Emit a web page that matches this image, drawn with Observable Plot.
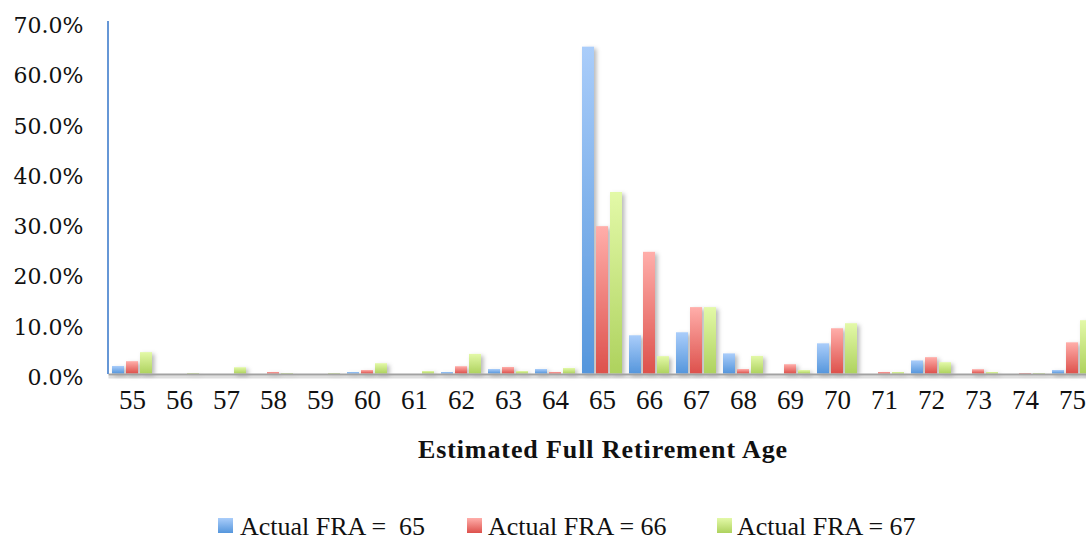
<!DOCTYPE html>
<html>
<head>
<meta charset="utf-8">
<script src="https://cdn.jsdelivr.net/npm/d3@7"></script>
<script src="https://cdn.jsdelivr.net/npm/@observablehq/plot@0.6"></script>
<style>
  html, body { margin: 0; padding: 0; background: #fff; overflow: hidden; }
  #chart { position: relative; width: 1086px; height: 540px; }
  #chart svg { display: block; }
  #legend { position: absolute; left: 0; top: 512px; width: 1086px; height: 30px;
            font-family: "Liberation Serif", serif; font-size: 26px; line-height: 30px; color: #111; }
  .sw { position: absolute; top: 6px; width: 15px; height: 15px; }
  .lt { position: absolute; top: 0; white-space: pre; }
</style>
</head>
<body>
<div id="chart"></div>
<script>
// Estimated full retirement age, share of respondents by actual FRA (percent)
const ages = [55, 56, 57, 58, 59, 60, 61, 62, 63, 64, 65, 66, 67, 68, 69, 70, 71, 72, 73, 74, 75];
const fra65 = [1.5, 0, 0, 0, 0, 0.3, 0, 0.3, 0.9, 0.9, 65.0, 7.6, 8.2, 4.0, 0, 6.0, 0, 2.6, 0, 0, 0.7];
const fra66 = [2.45, 0, 0, 0.3, 0, 0.7, 0, 1.45, 1.3, 0.3, 29.3, 24.2, 13.2, 0.9, 1.85, 9.0, 0.3, 3.25, 0.86, 0.1, 6.2];
const fra67 = [4.25, 0.1, 1.25, 0.1, 0.1, 2.05, 0.5, 3.9, 0.5, 1.1, 36.1, 3.45, 13.2, 3.5, 0.7, 10.0, 0.3, 2.25, 0.3, 0.1, 10.6];
const seriesNames = ["Actual FRA =  65", "Actual FRA = 66", "Actual FRA = 67"];
const yTicks = [0, 0.1, 0.2, 0.3, 0.4, 0.5, 0.6, 0.7];
const xTitle = "Estimated Full Retirement Age";

// gradient stops per series: [top, bottom]
const gradients = [
  ["#aacdfa", "#5596dc"],
  ["#ffaeaa", "#dd514c"],
  ["#e3f9a8", "#aed25e"]
];

const seriesValues = [fra65, fra66, fra67];
const rows = seriesValues.map(vals => ages.map((age, i) => ({age, value: vals[i] / 100})));

const SVGNS = "http://www.w3.org/2000/svg";
function el(name, attrs, parent) {
  const e = document.createElementNS(SVGNS, name);
  for (const k in attrs) e.setAttribute(k, attrs[k]);
  if (parent) parent.appendChild(e);
  return e;
}

// defs: vertical gradients and a soft drop shadow
function defsMark() {
  const g = el("g", {});
  const defs = el("defs", {}, g);
  gradients.forEach(([top, bottom], i) => {
    const lg = el("linearGradient", {id: "grad" + i, x1: 0, y1: 0, x2: 0, y2: 1}, defs);
    el("stop", {offset: "0%", "stop-color": top}, lg);
    el("stop", {offset: "100%", "stop-color": bottom}, lg);
  });
  const f = el("filter", {id: "shadow", x: "-50%", y: "-20%", width: "200%", height: "150%"}, defs);
  el("feDropShadow", {dx: 2.5, dy: 2, stdDeviation: 2, "flood-color": "#000", "flood-opacity": 0.28}, f);
  return g;
}

// blue vertical value axis line
function yAxisLine(index, scales, values, dims) {
  const g = el("g", {});
  el("line", {
    x1: dims.marginLeft - 0.5, x2: dims.marginLeft - 0.5,
    y1: scales.y(0.7) - 0.5, y2: scales.y(0) + 0.5,
    stroke: "#6697d6", "stroke-width": 2
  }, g);
  return g;
}

const bandStep = 47;       // px per age group
const barW = 12, barGap = 2;
const groupW = 3 * barW + 2 * barGap;

const plot = Plot.plot({
  width: 1086,
  height: 470,
  marginLeft: 108.5,
  marginRight: 0,
  marginTop: 21.5,
  marginBottom: 96.5,
  style: {background: "transparent", overflow: "hidden"},
  x: {
    type: "band",
    domain: ages,
    range: [108.5, 108.5 + bandStep * ages.length],
    paddingInner: 1 - groupW / bandStep,
    paddingOuter: (1 - groupW / bandStep) / 2,
    round: false,
    axis: null
  },
  y: {domain: [0, 0.7], axis: null},
  marks: [
    defsMark,
    // baseline shadow
    Plot.ruleY([0], {stroke: "#c8c8c8", strokeWidth: 3, dy: 3, strokeOpacity: 0.6}),
    ...rows.map((data, i) => Plot.barY(data, {
      x: "age",
      y: "value",
      fill: `url(#grad${i})`,
      insetLeft: i * (barW + barGap),
      insetRight: groupW - barW - i * (barW + barGap)
    })),
    Plot.ruleY([0], {stroke: "#a2a2a2", strokeWidth: 2, dy: 0.5}),
    yAxisLine,
    // y tick labels
    Plot.text(yTicks, {
      y: d => d,
      frameAnchor: "left",
      textAnchor: "end",
      dx: -25.5,
      dy: 4,
      text: d3.format(".1%"),
      fontFamily: "DejaVu Serif",
      fontSize: 22,
      fill: "#111"
    }),
    // x tick labels
    Plot.text(ages, {
      x: d => d,
      frameAnchor: "bottom",
      dy: 35,
      text: d => String(d),
      fontFamily: "Liberation Serif",
      fontSize: 27,
      fill: "#111"
    }),
    // x axis title
    Plot.text([xTitle], {
      frameAnchor: "bottom",
      dx: 5.2,
      dy: 84,
      text: d => d,
      fontFamily: "Liberation Serif",
      fontWeight: "bold",
      fontSize: 26,
      fill: "#111"
    })
  ]
});

// drop shadow on bars
plot.querySelectorAll('g[aria-label="bar"]').forEach(g => g.setAttribute("filter", "url(#shadow)"));
// wider tracking on the axis title
plot.querySelectorAll("text").forEach(t => {
  if (t.textContent === xTitle) t.setAttribute("letter-spacing", "0.9");
});

const chart = document.getElementById("chart");
chart.appendChild(plot);

// legend below the plot
const legend = document.createElement("div");
legend.id = "legend";
const swatchX = [218, 467, 717];
const labelX = [240, 488, 737];
seriesNames.forEach((name, i) => {
  const sw = document.createElement("div");
  sw.className = "sw";
  sw.style.left = swatchX[i] + "px";
  sw.style.background = `linear-gradient(${gradients[i][0]}, ${gradients[i][1]})`;
  legend.appendChild(sw);
  const t = document.createElement("span");
  t.className = "lt";
  t.style.left = labelX[i] + "px";
  t.textContent = name;
  legend.appendChild(t);
});
chart.appendChild(legend);
</script>
</body>
</html>
